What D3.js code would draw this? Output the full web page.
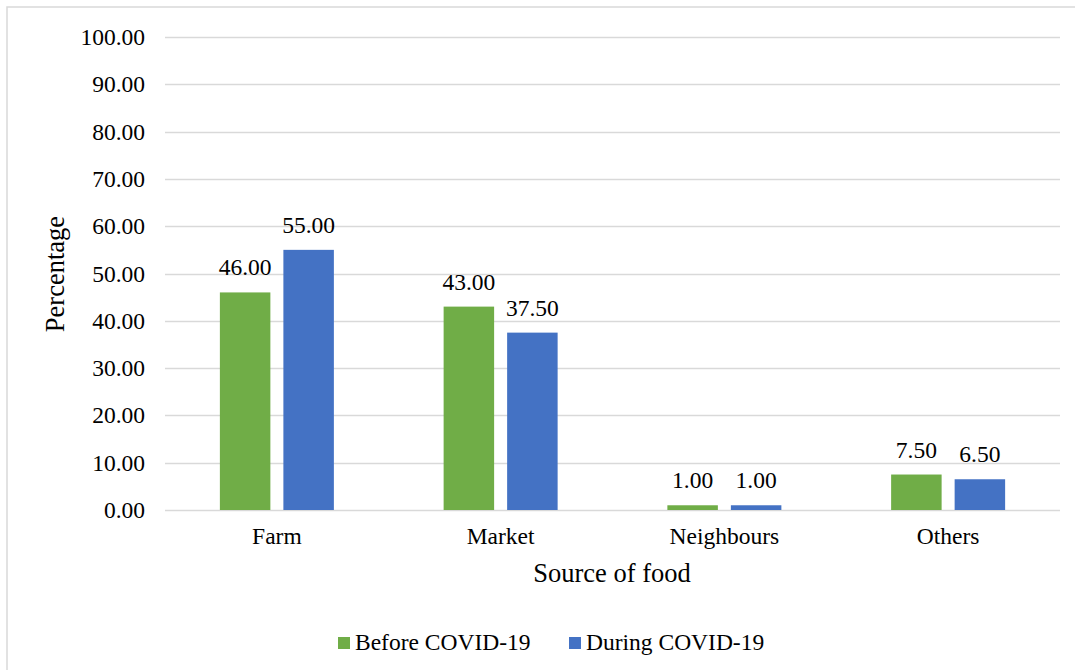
<!DOCTYPE html>
<html>
<head>
<meta charset="utf-8">
<script src="https://cdn.jsdelivr.net/npm/d3@7"></script>
<style>
  html, body { margin: 0; padding: 0; background: #fff; }
  svg { display: block; }
  svg text { font-family: "Liberation Serif", "Times New Roman", serif !important; }
</style>
</head>
<body>
<svg id="chart" width="1075" height="670"></svg>
<script>
const categories = ["Farm", "Market", "Neighbours", "Others"];
const seriesNames = ["Before COVID-19", "During COVID-19"];
const beforeValues = [46.00, 43.00, 1.00, 7.50];
const duringValues = [55.00, 37.50, 1.00, 6.50];
const yTicks = [0, 10, 20, 30, 40, 50, 60, 70, 80, 90, 100];
const seriesColors = ["#70AD47", "#4472C4"];

const svg = d3.select("#chart");

// frame
svg.append("rect")
  .attr("x", 7).attr("y", 7)
  .attr("width", 1080).attr("height", 680)
  .attr("fill", "none").attr("stroke", "#d9d9d9").attr("stroke-width", 1.5);

const plot = { left: 165, right: 1060, top: 37, bottom: 510 };

const y = d3.scaleLinear().domain([0, 100]).range([plot.bottom, plot.top]);
const x0 = d3.scaleBand().domain(categories).range([plot.left, plot.right]).padding(0);
const groupWidth = 114;
const x1 = d3.scaleBand().domain(seriesNames).range([0, groupWidth]).paddingInner(0.205).paddingOuter(0);

// gridlines
svg.append("g").selectAll("line").data(yTicks).join("line")
  .attr("x1", plot.left).attr("x2", plot.right)
  .attr("y1", d => Math.round(y(d)) + 0.5).attr("y2", d => Math.round(y(d)) + 0.5)
  .attr("stroke", "#d9d9d9").attr("stroke-width", 1.5);

// y axis labels
const yAxis = d3.axisLeft(y).tickValues(yTicks).tickFormat(d3.format(".2f")).tickSize(0).tickPadding(20);
const yg = svg.append("g").attr("transform", `translate(${plot.left},0)`).call(yAxis);
yg.select(".domain").remove();
yg.selectAll("text").attr("font-size", 23.5).attr("fill", "#000");

// x axis labels
const xAxis = d3.axisBottom(x0).tickSize(0).tickPadding(17);
const xg = svg.append("g").attr("transform", `translate(0,${plot.bottom})`).call(xAxis);
xg.select(".domain").remove();
xg.selectAll("text").attr("font-size", 23.5).attr("fill", "#000");

// bars
const rows = categories.map((c, i) => ({ cat: c, vals: [beforeValues[i], duringValues[i]] }));
const groups = svg.append("g").selectAll("g").data(rows).join("g")
  .attr("transform", d => `translate(${x0(d.cat) + (x0.bandwidth() - groupWidth) / 2},0)`);

groups.selectAll("rect").data(d => d.vals.map((v, j) => ({ s: seriesNames[j], v, j })))
  .join("rect")
  .attr("x", d => x1(d.s))
  .attr("width", x1.bandwidth())
  .attr("y", d => y(d.v))
  .attr("height", d => y(0) - y(d.v))
  .attr("fill", d => seriesColors[d.j]);

groups.selectAll("text").data(d => d.vals.map((v, j) => ({ s: seriesNames[j], v, j })))
  .join("text")
  .attr("x", d => x1(d.s) + x1.bandwidth() / 2)
  .attr("y", d => y(d.v) - 17)
  .attr("text-anchor", "middle")
  .attr("font-size", 23.5).attr("fill", "#000")
  .text(d => d3.format(".2f")(d.v));

// axis titles
svg.append("text")
  .attr("transform", "translate(64,274) rotate(-90)")
  .attr("text-anchor", "middle").attr("font-size", 26.5).attr("fill", "#000")
  .text("Percentage");

svg.append("text")
  .attr("x", 612).attr("y", 582)
  .attr("text-anchor", "middle").attr("font-size", 26.5).attr("fill", "#000")
  .text("Source of food");

// legend
const legendX = [338, 569];
const lg = svg.append("g").selectAll("g").data(seriesNames).join("g")
  .attr("transform", (d, i) => `translate(${legendX[i]},0)`);
lg.append("rect").attr("x", 0).attr("y", 637).attr("width", 12).attr("height", 12)
  .attr("fill", (d, i) => seriesColors[i]);
lg.append("text").attr("x", 17).attr("y", 650)
  .attr("font-size", 23.5).attr("fill", "#000").text(d => d);
</script>
</body>
</html>
